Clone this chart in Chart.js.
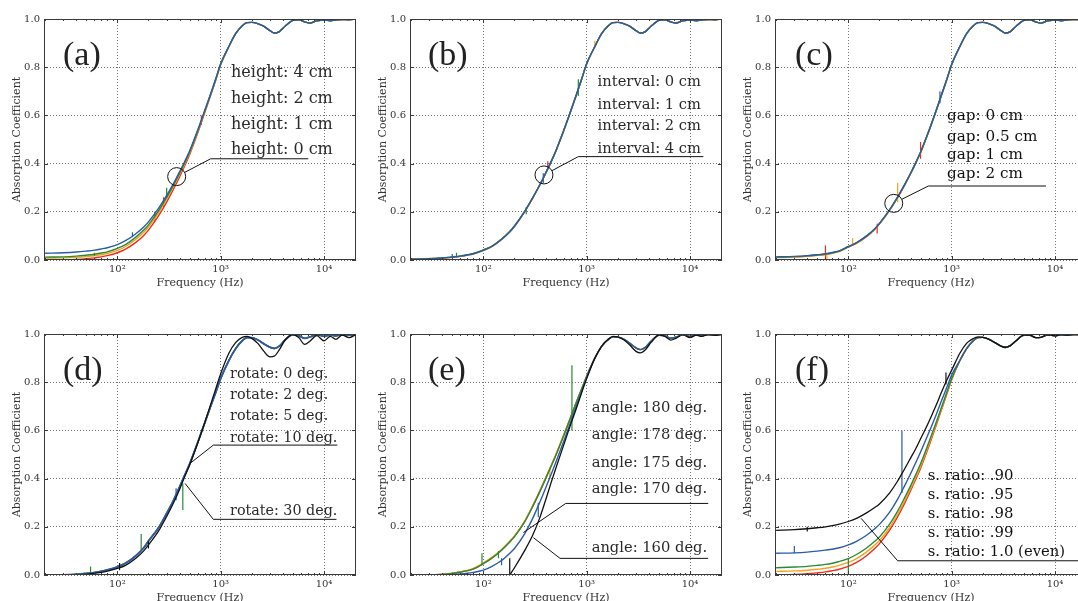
<!DOCTYPE html>
<html><head><meta charset="utf-8">
<script src="https://cdn.jsdelivr.net/npm/chart.js@4.4.0/dist/chart.umd.min.js"></script>
<style>
html,body{margin:0;padding:0;background:#fff;overflow:hidden;width:1078px;height:601px;position:relative}
canvas{position:absolute}
</style></head><body>
<canvas id="pa" width="360" height="300" style="left:0;top:0"></canvas>
<canvas id="pb" width="364" height="300" style="left:360px;top:0"></canvas>
<canvas id="pc" width="372" height="300" style="left:718px;top:0"></canvas>
<canvas id="pd" width="360" height="291" style="left:0;top:310px"></canvas>
<canvas id="pe" width="364" height="291" style="left:360px;top:310px"></canvas>
<canvas id="pf" width="372" height="291" style="left:718px;top:310px"></canvas>
<script>
// ---------- data ----------
const F_LOW = [20,30,40,50,60,70,80,100,120,150,180,200,250,300,350,400,450,500,600,700,800,900,1000];
const F_HIGH = [1200,1400,1600,1800,2000,2300,2600,3000,3300,3700,4200,5000,5700,6500,7300,8500,10000,11500,13000,15000,17500,20000];
const FREQ = F_LOW.concat(F_HIGH);
const X_TICKS = [100,1000,10000];
const X_TICK_LABELS = ['10\u00B2','10\u00B3','10\u2074'];
const Y_TICKS = [0,0.2,0.4,0.6,0.8,1.0];

const TAIL_STD = [0.886,0.94,0.97,0.985,0.986,0.98,0.97,0.952,0.942,0.948,0.97,0.994,0.997,0.988,0.983,0.992,0.996,0.993,0.996,0.998,0.997,1.0];
const TAIL_D = [0.89,0.94,0.97,0.985,0.985,0.975,0.96,0.945,0.94,0.95,0.975,0.998,0.993,0.982,0.988,0.998,0.99,0.997,0.992,0.998,0.995,0.998];
const TAIL_D_BLACK = [0.92,0.965,0.985,0.99,0.982,0.96,0.93,0.905,0.908,0.935,0.975,0.998,0.985,0.957,0.97,0.993,0.972,0.99,0.978,0.995,0.985,0.995];
const TAIL_E = [0.9,0.95,0.975,0.988,0.987,0.978,0.962,0.942,0.935,0.945,0.97,0.995,0.993,0.983,0.987,0.997,0.99,0.996,0.993,0.998,0.996,0.998];
const TAIL_E_BLACK = [0.9,0.95,0.977,0.99,0.988,0.975,0.955,0.928,0.922,0.935,0.965,0.995,0.99,0.975,0.982,0.997,0.985,0.995,0.99,0.998,0.994,0.998];
const TAIL_F = [0.89,0.94,0.97,0.985,0.986,0.978,0.965,0.95,0.944,0.952,0.972,0.995,0.995,0.985,0.986,0.996,0.993,0.997,0.995,0.998,0.997,0.999];
const TAIL_F_BLACK = [0.92,0.962,0.98,0.988,0.986,0.978,0.965,0.95,0.945,0.952,0.972,0.995,0.995,0.985,0.986,0.996,0.993,0.997,0.995,0.998,0.997,0.999];

// panel (a) height
const A_BLUE = [.028,.030,.033,.037,.041,.046,.051,.064,.080,.108,.137,.158,.214,.268,.318,.366,.41,.452,.54,.62,.69,.755,.815];
const A_GREEN = [.012,.013,.016,.02,.024,.029,.034,.048,.064,.094,.124,.146,.204,.26,.312,.36,.405,.448,.535,.617,.688,.752,.812];
const A_ORANGE = [.008,.009,.011,.014,.018,.022,.027,.04,.056,.085,.115,.137,.196,.252,.305,.354,.40,.443,.532,.614,.686,.75,.81];
const A_RED = [0,0,.002,.005,.009,.013,.018,.03,.045,.072,.102,.124,.183,.24,.295,.345,.392,.437,.528,.611,.684,.749,.81];
// panel (b) interval
const B_BLUE = [.003,.005,.008,.012,.016,.021,.026,.04,.055,.085,.117,.14,.2,.258,.31,.36,.406,.45,.538,.618,.69,.755,.815];
const B_GREEN = [.002,.005,.009,.013,.017,.022,.027,.042,.057,.087,.118,.141,.201,.258,.31,.359,.405,.449,.537,.617,.689,.754,.814];
const B_ORANGE = [.004,.006,.008,.011,.015,.02,.025,.039,.054,.084,.116,.139,.199,.257,.309,.359,.405,.449,.537,.617,.689,.754,.814];
const B_RED = [.003,.004,.007,.011,.015,.02,.026,.041,.056,.086,.117,.14,.2,.257,.309,.359,.405,.449,.537,.617,.689,.754,.814];
// panel (c) gap
const C_BLUE = [.013,.015,.018,.022,.026,.031,.037,.056,.072,.1,.13,.152,.208,.262,.313,.36,.405,.448,.535,.615,.688,.752,.812];
const C_GREEN = [.012,.014,.017,.021,.025,.03,.036,.055,.071,.099,.129,.151,.207,.261,.312,.359,.404,.447,.534,.614,.687,.751,.811];
const C_ORANGE = [.01,.012,.015,.019,.023,.028,.034,.053,.069,.097,.127,.149,.205,.259,.31,.358,.403,.446,.533,.613,.686,.75,.81];
const C_RED = [.011,.013,.016,.02,.024,.029,.035,.054,.07,.098,.128,.15,.206,.26,.311,.358,.403,.446,.533,.613,.686,.75,.81];
// panel (d) rotate
const D_BLUE = [0,0,.002,.006,.01,.015,.021,.034,.049,.079,.113,.141,.196,.256,.311,.366,.416,.461,.551,.631,.70,.76,.815];
const D_GREEN = [0,0,.003,.007,.011,.016,.021,.034,.049,.079,.112,.14,.195,.255,.31,.365,.415,.46,.55,.63,.70,.76,.815];
const D_ORANGE = [0,0,.002,.006,.011,.016,.022,.035,.05,.08,.114,.142,.197,.257,.311,.365,.415,.46,.55,.63,.70,.76,.815];
const D_RED = [0,0,.001,.005,.01,.015,.02,.033,.048,.078,.112,.14,.195,.255,.31,.365,.415,.46,.55,.63,.70,.76,.815];
const D_BLACK = [0,0,0,.003,.007,.011,.016,.027,.04,.068,.1,.125,.182,.243,.3,.355,.41,.455,.548,.632,.708,.775,.835];
// panel (e) angle
const E_RED = [0,0,.002,.006,.012,.018,.025,.048,.07,.104,.138,.16,.22,.285,.345,.40,.45,.495,.58,.655,.72,.775,.825];
const E_ORANGE = [0,0,.003,.007,.013,.019,.027,.05,.072,.106,.14,.162,.222,.287,.347,.402,.452,.497,.582,.656,.72,.775,.825];
const E_GREEN = [0,0,.002,.006,.012,.018,.025,.047,.069,.103,.137,.159,.219,.284,.344,.399,.449,.494,.579,.654,.72,.775,.825];
const E_BLUE = [0,0,0,.002,.004,.007,.011,.02,.035,.06,.09,.11,.17,.235,.3,.36,.415,.465,.555,.635,.705,.765,.82];
const E_BLACK = [null,null,null,null,null,null,null,null,null,null,0,.03,.1,.165,.235,.31,.38,.44,.54,.625,.695,.76,.815];
// panel (f) s. ratio
const F_BLACK = [.185,.188,.192,.196,.2,.205,.21,.222,.235,.258,.28,.295,.34,.39,.44,.485,.525,.565,.635,.7,.76,.81,.85];
const F_BLUE = [.09,.092,.095,.099,.103,.107,.112,.125,.14,.165,.192,.21,.26,.315,.37,.42,.467,.51,.59,.66,.725,.78,.83];
const F_GREEN = [.03,.033,.036,.04,.044,.049,.055,.068,.085,.112,.14,.158,.21,.265,.32,.37,.418,.462,.55,.628,.698,.76,.815];
const F_ORANGE = [.015,.017,.02,.024,.028,.033,.039,.052,.068,.096,.124,.143,.196,.252,.307,.358,.406,.45,.54,.62,.692,.755,.812];
const F_RED = [0,.002,.005,.009,.013,.018,.023,.036,.052,.08,.11,.13,.185,.242,.297,.35,.398,.443,.533,.615,.688,.752,.81];

// measurement spikes: [frequency, from, to]
const SPK_A_RED = [[230,.16,.2],[280,.22,.26],[650,.56,.6]];
const SPK_A_GREEN = [[300,.26,.3],[60,.018,.03]];
const SPK_A_BLUE = [[140,.095,.115]];
const SPK_B_GREEN = [[830,.68,.75],[260,.19,.22],[55,.01,.03]];
const SPK_B_ORANGE = [[1200,.88,.91]];
const SPK_B_RED = [[420,.38,.41]];
const SPK_B_BLUE = [[380,.32,.36],[50,.01,.025]];
const SPK_C_RED = [[60,0,.06],[190,.11,.15],[500,.42,.49]];
const SPK_C_ORANGE = [[300,.24,.32],[110,.06,.09],[62,0,.03]];
const SPK_C_BLUE = [[770,.65,.7]];
const SPK_D_GREEN = [[430,.27,.38],[170,.1,.17],[55,0,.035]];
const SPK_D_BLUE = [[370,.31,.36]];
const SPK_D_BLACK = [[200,.11,.14],[105,.02,.05]];
const SPK_E_GREEN = [[720,.6,.87],[97,.04,.09],[140,.07,.1]];
const SPK_E_BLACK = [[180,0,.07]];
const SPK_E_BLUE = [[340,.24,.3],[150,.04,.07]];
const SPK_E_ORANGE = [[440,.4,.44]];
const SPK_F_BLUE = [[330,.34,.6],[30,.09,.12]];
const SPK_F_GREEN = [[100,0,.07]];
const SPK_F_BLACK = [[880,.79,.84],[40,.18,.2]];

// labels
const LBL_A = ['height: 4 cm','height: 2 cm','height: 1 cm','height: 0 cm'];
const LBL_B = ['interval: 0 cm','interval: 1 cm','interval: 2 cm','interval: 4 cm'];
const LBL_C = ['gap: 0 cm','gap: 0.5 cm','gap: 1 cm','gap: 2 cm'];
const LBL_D = ['rotate: 0 deg.','rotate: 2 deg.','rotate: 5 deg.','rotate: 10 deg.','rotate: 30 deg.'];
const LBL_E = ['angle: 180 deg.','angle: 178 deg.','angle: 175 deg.','angle: 170 deg.','angle: 160 deg.'];
const LBL_F = ['s. ratio: .90','s. ratio: .95','s. ratio: .98','s. ratio: .99','s. ratio: 1.0 (even)'];

// ---------- styling ----------
const COL = {blue:'#2b5ba8', green:'#2a8a34', orange:'#f6a21c', red:'#ee2c1c', black:'#111111'};
const SERIF = '"DejaVu Serif", serif';

function line(lo, hi, color, order, w) {
  const vals = lo.concat(hi);
  return {data: FREQ.map((f,i)=>({x:f,y:vals[i]})).filter(p=>p.y!==null),
    borderColor:color, borderWidth:w||1.4, pointRadius:0, fill:false,
    cubicInterpolationMode:'monotone', order};
}
function spikes(list, color, order) {
  const d = [];
  list.forEach(([f,a,b]) => { d.push({x:f,y:a},{x:f,y:b},{x:f,y:null}); });
  return {data:d, borderColor:color, borderWidth:1.2, pointRadius:0, tension:0, spanGaps:false, fill:false, order};
}

const deco = {
  id:'deco',
  afterDraw(chart, args, o) {
    const {ctx, chartArea:ca, scales:{x,y}} = chart;
    ctx.save();
    // frame
    ctx.strokeStyle = '#3a3a3a'; ctx.lineWidth = 1;
    ctx.strokeRect(Math.round(ca.left)+0.5, Math.round(ca.top)+0.5, Math.round(ca.right-ca.left)-1, Math.round(ca.bottom-ca.top)-1);
    // ticks
    ctx.beginPath();
    for (let k=1;k<=4;k++) for (let m=1;m<=9;m++) {
      const v = m*Math.pow(10,k);
      if (v < x.min || v > x.max) continue;
      const px = Math.round(x.getPixelForValue(v))+0.5, len = (m===1)?4:2;
      ctx.moveTo(px, ca.bottom); ctx.lineTo(px, ca.bottom-len);
      ctx.moveTo(px, ca.top); ctx.lineTo(px, ca.top+len);
    }
    Y_TICKS.forEach(v => {
      const py = Math.round(y.getPixelForValue(v))+0.5;
      ctx.moveTo(ca.left, py); ctx.lineTo(ca.left+4, py);
      ctx.moveTo(ca.right, py); ctx.lineTo(ca.right-4, py);
    });
    ctx.stroke();
    // axis titles
    ctx.fillStyle = '#333'; ctx.font = '11px ' + SERIF;
    ctx.textAlign = 'center'; ctx.textBaseline = 'middle';
    ctx.fillText('Frequency (Hz)', (ca.left+ca.right)/2 - (o.xShift||0), ca.bottom + 23);
    ctx.save();
    ctx.translate(ca.left - 27, (ca.top+ca.bottom)/2);
    ctx.rotate(-Math.PI/2);
    ctx.fillText('Absorption Coefficient', 0, 0);
    ctx.restore();
    // panel letter
    ctx.fillStyle = '#222'; ctx.font = '34px "Liberation Serif", serif';
    ctx.textAlign = 'left';
    ctx.fillText(o.letter, ca.left + o.letterDx, ca.top + 37);
    // circle and leaders
    ctx.strokeStyle = '#111'; ctx.lineWidth = 1;
    let cx, cy;
    if (o.circle) {
      cx = x.getPixelForValue(o.circle[0]); cy = y.getPixelForValue(o.circle[1]);
      ctx.beginPath(); ctx.arc(cx, cy, 9, 0, Math.PI*2); ctx.stroke();
    }
    (o.leaders||[]).forEach(pts => {
      const p = pts.map(([f,v]) => [x.getPixelForValue(f), y.getPixelForValue(v)]);
      ctx.beginPath();
      if (o.circle && pts[0][0]===o.circle[0] && pts[0][1]===o.circle[1]) {
        const dx = p[1][0]-cx, dy = p[1][1]-cy, d = Math.hypot(dx,dy);
        ctx.moveTo(cx+dx/d*9, cy+dy/d*9);
      } else ctx.moveTo(p[0][0], p[0][1]);
      for (let i=1;i<p.length;i++) ctx.lineTo(p[i][0], p[i][1]);
      ctx.stroke();
    });
    // labels
    ctx.fillStyle = o.textColor; ctx.font = o.fontSize + 'px ' + SERIF;
    ctx.textAlign = 'left'; ctx.textBaseline = 'middle';
    o.labels.forEach((t,i) => ctx.fillText(t, x.getPixelForValue(o.labelF), y.getPixelForValue(o.labelV[i])));
    ctx.restore();
  }
};

function makeChart(id, geo, datasets, dec) {
  new Chart(document.getElementById(id), {
    type:'line',
    data:{datasets},
    options:{
      responsive:false, animation:false, events:[],
      layout:{padding:{top:geo.top, right:geo.right, left:0, bottom:0}},
      plugins:{legend:{display:false}, tooltip:{enabled:false}, deco:dec},
      scales:{
        x:{type:'logarithmic', min:19.5, max:20400,
          afterBuildTicks:s=>{ s.ticks = X_TICKS.map(v=>({value:v})); },
          afterFit:s=>{ s.height = geo.xh; },
          ticks:{callback:(v,i)=>X_TICK_LABELS[i], font:{family:SERIF,size:10}, color:'#333', padding:3, maxRotation:0, autoSkip:false},
          grid:{color:'rgba(0,0,0,0.55)', drawTicks:false, lineWidth:1},
          border:{display:false, dash:[1,2]}},
        y:{type:'linear', min:0, max:1,
          afterBuildTicks:s=>{ s.ticks = Y_TICKS.map(v=>({value:v})); },
          afterFit:s=>{ s.width = geo.yw; },
          ticks:{callback:v=>v.toFixed(1), font:{family:SERIF,size:10}, color:'#333', padding:4},
          grid:{color:'rgba(0,0,0,0.55)', drawTicks:false, lineWidth:1},
          border:{display:false, dash:[1,2]}}
      }
    },
    plugins:[deco]
  });
}

const TOP = {top:19, xh:40}, BOT = {top:24, xh:26};

makeChart('pa', {...TOP, yw:44, right:4}, [
  line(A_BLUE, TAIL_STD, COL.blue, 1), line(A_GREEN, TAIL_STD, COL.green, 2),
  line(A_ORANGE, TAIL_STD, COL.orange, 3), line(A_RED, TAIL_STD, COL.red, 4),
  spikes(SPK_A_RED, COL.red, 4), spikes(SPK_A_GREEN, COL.green, 2), spikes(SPK_A_BLUE, COL.blue, 1)
], {letter:'(a)', letterDx:19, circle:[375,0.346], leaders:[[[375,0.346],[800,0.42],[7050,0.42]]],
    labels:LBL_A, labelF:1260, labelV:[0.778,0.670,0.562,0.457], fontSize:16, textColor:'#2a2a2a'});

makeChart('pb', {...TOP, yw:50, right:2}, [
  line(B_BLUE, TAIL_STD, COL.blue, 1), line(B_GREEN, TAIL_STD, COL.green, 2),
  line(B_ORANGE, TAIL_STD, COL.orange, 3), line(B_RED, TAIL_STD, COL.red, 4),
  spikes(SPK_B_GREEN, COL.green, 2), spikes(SPK_B_ORANGE, COL.orange, 3), spikes(SPK_B_RED, COL.red, 4), spikes(SPK_B_BLUE, COL.blue, 1)
], {letter:'(b)', letterDx:18, circle:[386,0.353], leaders:[[[386,0.353],[830,0.429],[13460,0.429]]],
    labels:LBL_B, labelF:1276, labelV:[0.737,0.644,0.554,0.461], fontSize:14.7, textColor:'#2a2a2a'});

makeChart('pc', {...TOP, yw:57, right:3}, [
  line(C_BLUE, TAIL_STD, COL.blue, 1), line(C_GREEN, TAIL_STD, COL.green, 2),
  line(C_ORANGE, TAIL_STD, COL.orange, 3), line(C_RED, TAIL_STD, COL.red, 4),
  spikes(SPK_C_RED, COL.red, 4), spikes(SPK_C_ORANGE, COL.orange, 3), spikes(SPK_C_BLUE, COL.blue, 1)
], {letter:'(c)', letterDx:20, circle:[275,0.235], leaders:[[[275,0.235],[594,0.307],[8180,0.307]]],
    labels:LBL_C, labelF:902, labelV:[0.596,0.512,0.436,0.357], fontSize:15.2, textColor:'#111'});

makeChart('pd', {...BOT, yw:44, right:4}, [
  line(D_BLACK, TAIL_D_BLACK, COL.black, 0, 1.3),
  line(D_BLUE, TAIL_D, COL.blue, 1, 1.8), line(D_GREEN, TAIL_D, COL.green, 2),
  line(D_ORANGE, TAIL_D, COL.orange, 3), line(D_RED, TAIL_D, COL.red, 4),
  spikes(SPK_D_GREEN, COL.green, 2), spikes(SPK_D_BLUE, COL.blue, 1), spikes(SPK_D_BLACK, COL.black, 0)
], {letter:'(d)', letterDx:19, leaders:[[[505,0.463],[849,0.539],[13460,0.539]],[[452,0.38],[849,0.231],[13200,0.231]]],
    labels:LBL_D, labelF:1232, labelV:[0.834,0.746,0.657,0.568,0.266], fontSize:14.3, textColor:'#2a2a2a'});

makeChart('pe', {...BOT, yw:50, right:2}, [
  line(E_BLACK, TAIL_E_BLACK, COL.black, 0, 1.3),
  line(E_BLUE, TAIL_E, COL.blue, 1), line(E_GREEN, TAIL_E, COL.green, 2),
  line(E_ORANGE, TAIL_E, COL.orange, 3), line(E_RED, TAIL_E, COL.red, 4),
  spikes(SPK_E_GREEN, COL.green, 2), spikes(SPK_E_BLACK, COL.black, 0), spikes(SPK_E_BLUE, COL.blue, 1), spikes(SPK_E_ORANGE, COL.orange, 3)
], {letter:'(e)', letterDx:18, leaders:[[[244,0.176],[627,0.297],[15000,0.297]],[[305,0.155],[552,0.069],[15000,0.069]]],
    labels:LBL_E, labelF:1117, labelV:[0.692,0.581,0.466,0.355,0.111], fontSize:14.7, textColor:'#2a2a2a'});

makeChart('pf', {...BOT, yw:57, right:3}, [
  line(F_BLACK, TAIL_F_BLACK, COL.black, 0, 1.3),
  line(F_BLUE, TAIL_F, COL.blue, 1), line(F_GREEN, TAIL_F, COL.green, 2),
  line(F_ORANGE, TAIL_F, COL.orange, 3), line(F_RED, TAIL_F, COL.red, 4),
  spikes(SPK_F_BLUE, COL.blue, 1), spikes(SPK_F_GREEN, COL.green, 2), spikes(SPK_F_BLACK, COL.black, 0)
], {letter:'(f)', letterDx:20, leaders:[[[133,0.235],[300,0.059],[20400,0.059]]],
    labels:LBL_F, labelF:586, labelV:[0.412,0.332,0.253,0.173,0.094], fontSize:14.8, textColor:'#111'});
</script>
</body></html>
